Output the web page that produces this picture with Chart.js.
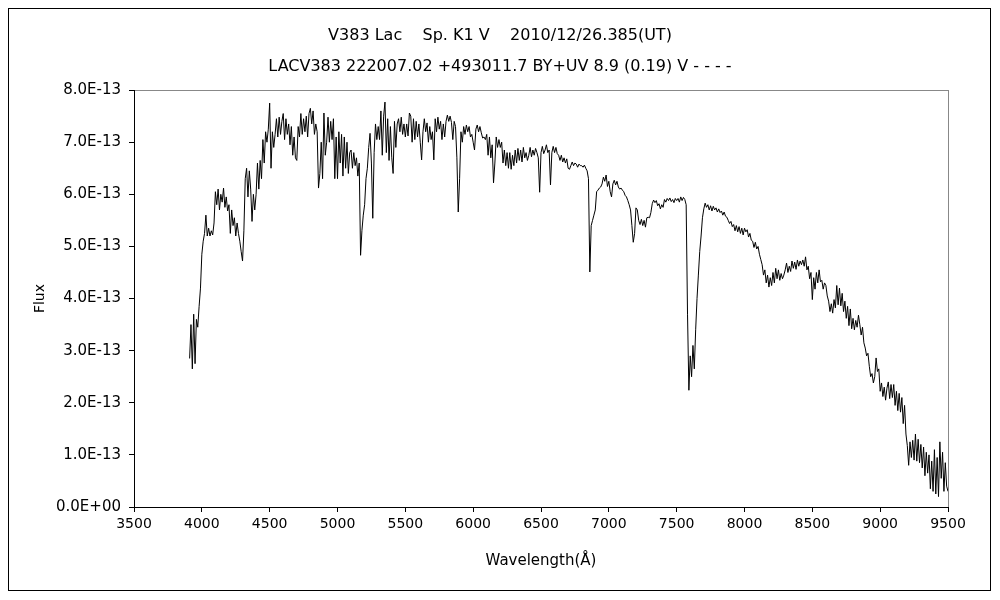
<!DOCTYPE html>
<html>
<head>
<meta charset="utf-8">
<script src="https://cdn.jsdelivr.net/npm/chart.js@4.4.1/dist/chart.umd.min.js"></script>
<style>
  html, body { margin: 0; padding: 0; background: #fff; }
  #wrap { width: 1000px; height: 600px; }
</style>
</head>
<body>
<div id="wrap"><canvas id="spectrum" width="1000" height="600"></canvas></div>
<script>
// Spectrum of V383 Lac, sampled every 10 A starting at 3910 A
// flux values are in units of 1E-13
const waveStart = 3910;
const waveStep = 10;

const flux = [
    2.85, 3.50, 2.65, 3.70, 2.75, 3.60, 3.45, 3.85, 4.20,
    4.85, 5.10, 5.25, 5.60, 5.20, 5.35, 5.20, 5.30, 5.22, 5.45,
    6.05, 5.80, 6.10, 5.70, 6.00, 5.85, 6.12, 5.75, 5.95, 5.68,
    5.80, 5.25, 5.70, 5.40, 5.55, 5.20, 5.45, 5.25, 5.10, 4.90,
    4.72, 5.30, 6.30, 6.50, 5.95, 6.45, 6.10, 5.48, 6.00, 5.70,
    6.00, 6.60, 6.10, 6.65, 6.30, 7.05, 6.60, 7.20, 7.00, 7.25,
    7.75, 6.50, 7.20, 6.90, 7.15, 7.45, 7.10, 7.48, 7.15, 7.40,
    7.55, 7.05, 7.45, 7.15, 7.35, 6.95, 7.30, 6.75, 7.10, 6.70,
    6.65, 7.30, 7.10, 7.55, 7.15, 7.45, 7.20, 7.50, 7.10, 7.55,
    7.65, 7.35, 7.60, 7.15, 7.35, 7.20, 6.12, 6.40, 7.00, 6.30,
    7.56, 6.75, 7.00, 7.48, 7.00, 7.40, 7.05, 7.45, 6.30, 7.10,
    6.30, 7.20, 6.60, 7.15, 6.35, 7.10, 6.50, 7.00, 6.40, 6.80,
    6.85, 6.50, 6.80, 6.55, 6.70, 6.35, 6.60, 4.83, 5.30, 5.60,
    5.80, 6.30, 6.50, 6.90, 7.17, 6.60, 5.54, 6.80, 7.35, 7.05,
    7.30, 7.05, 7.60, 6.75, 7.50, 7.77, 6.80, 7.45, 6.65, 7.30,
    6.70, 6.40, 7.40, 6.90, 7.35, 7.45, 7.20, 7.48, 7.15, 7.35,
    7.10, 7.35, 7.12, 7.56, 7.50, 7.00, 7.45, 7.05, 7.40, 7.10,
    7.35, 7.00, 6.66, 7.20, 7.45, 7.20, 7.37, 7.00, 7.30, 7.05,
    7.20, 6.66, 7.45, 7.20, 7.48, 7.25, 7.40, 7.05, 7.35, 7.10,
    7.40, 7.52, 7.40, 7.50, 7.38, 7.05, 7.40, 7.30, 6.70, 5.66,
    6.30, 7.20, 7.00, 7.30, 7.15, 7.33, 7.20, 7.30, 7.10, 7.15,
    7.00, 6.85, 7.25, 7.33, 7.20, 7.30, 7.18, 7.08, 7.10, 7.05,
    7.15, 6.75, 7.10, 6.70, 6.95, 6.22, 6.60, 7.10, 6.90, 7.05,
    6.90, 7.00, 6.60, 6.85, 6.55, 6.80, 6.50, 6.80, 6.48, 6.75,
    6.55, 6.85, 6.60, 6.88, 6.65, 6.85, 6.62, 6.90, 6.70, 6.80,
    6.65, 6.75, 6.90, 6.72, 6.85, 6.75, 6.88, 6.80, 6.70, 6.04,
    6.80, 6.92, 6.78, 6.85, 6.95, 6.80, 6.85, 6.18, 6.80, 6.92,
    6.80, 6.90, 6.78, 6.75, 6.65, 6.75, 6.62, 6.70, 6.60, 6.68,
    6.50, 6.48, 6.55, 6.62, 6.55, 6.60, 6.58, 6.52, 6.58, 6.55,
    6.55, 6.52, 6.56, 6.50, 6.45, 6.30, 4.51, 5.40, 5.50, 5.60,
    5.70, 6.05, 6.08, 6.12, 6.14, 6.20, 6.33, 6.25, 6.37, 6.15,
    6.25, 6.05, 5.95, 6.20, 6.27, 6.18, 6.25, 6.14, 6.10, 6.12,
    6.08, 6.05, 5.98, 5.95, 5.88, 5.80, 5.70, 5.40, 5.08, 5.25,
    5.74, 5.70, 5.50, 5.42, 5.52, 5.40, 5.50, 5.37, 5.55, 5.56,
    5.55, 5.65, 5.82, 5.89, 5.84, 5.88, 5.78, 5.82, 5.72, 5.80,
    5.75, 5.90, 5.85, 5.92, 5.88, 5.93, 5.86, 5.90, 5.84, 5.92,
    5.88, 5.92, 5.85, 5.95, 5.88, 5.94, 5.90, 5.80, 3.70, 2.24,
    2.90, 2.50, 3.10, 2.65, 3.40, 4.00, 4.45, 4.90, 5.20, 5.55,
    5.72, 5.83, 5.75, 5.80, 5.70, 5.78, 5.68, 5.77, 5.70, 5.74,
    5.66, 5.72, 5.65, 5.68, 5.60, 5.66, 5.58, 5.56, 5.50, 5.44,
    5.48, 5.38, 5.42, 5.30, 5.40, 5.28, 5.38, 5.25, 5.35, 5.22,
    5.35, 5.28, 5.32, 5.18, 5.25, 5.12, 5.10, 4.98, 5.08, 4.95,
    5.00, 4.85, 4.75, 4.65, 4.45, 4.55, 4.30, 4.45, 4.22, 4.40,
    4.25, 4.50, 4.30, 4.58, 4.38, 4.55, 4.35, 4.48, 4.38, 4.45,
    4.55, 4.68, 4.50, 4.62, 4.52, 4.72, 4.58, 4.70, 4.56, 4.74,
    4.62, 4.72, 4.65, 4.74, 4.62, 4.80, 4.55, 4.62, 4.38, 4.50,
    3.98, 4.40, 4.18, 4.50, 4.30, 4.55, 4.32, 4.35, 4.18, 4.30,
    4.25, 4.05, 3.95, 3.75, 3.90, 3.72, 3.98, 3.82, 4.25, 3.88,
    4.20, 3.86, 4.10, 3.75, 3.95, 3.62, 3.85, 3.48, 3.80, 3.42,
    3.62, 3.40, 3.58, 3.45, 3.68, 3.50, 3.30, 3.45, 3.15, 3.05,
    2.90, 2.95, 2.70, 2.50, 2.56, 2.38, 2.50, 2.86, 2.60, 2.65,
    2.22, 2.38, 2.12, 2.30, 2.05, 2.28, 2.40, 2.08, 2.35, 2.10,
    2.35, 1.95, 2.22, 1.85, 2.18, 1.82, 2.10, 1.60, 1.95, 1.40,
    1.18, 0.80, 1.25, 0.95, 1.28, 0.90, 1.40, 0.88, 1.30, 0.85,
    1.20, 0.75, 1.15, 0.60, 1.05, 0.65, 1.00, 0.35, 0.88, 0.30,
    1.10, 0.25, 0.95, 0.20, 1.25, 0.55, 1.05, 0.30, 0.85, 0.40,
    0.30
];

const titleLines = [
    'V383 Lac    Sp. K1 V    2010/12/26.385(UT)',
    'LACV383 222007.02 +493011.7 BY+UV 8.9 (0.19) V - - - -'
];
const xTicks = [3500, 4000, 4500, 5000, 5500, 6000, 6500, 7000, 7500, 8000, 8500, 9000, 9500];
const yTicks = [0, 1, 2, 3, 4, 5, 6, 7, 8];
const xLabel = 'Wavelength(Å)';
const yLabel = 'Flux';

const FONT = "'DejaVu Sans', sans-serif";

const points = flux.map((v, i) => ({ x: waveStart + i * waveStep, y: v }));

// white background, outer frame and grey plot frame
const framePlugin = {
    id: 'frames',
    beforeDraw(chart) {
        const ctx = chart.ctx;
        ctx.save();
        ctx.fillStyle = '#fff';
        ctx.fillRect(0, 0, chart.width, chart.height);
        ctx.strokeStyle = '#000';
        ctx.lineWidth = 1;
        ctx.strokeRect(8.5, 8.5, 982, 582);
        const a = chart.chartArea;
        ctx.strokeStyle = '#888';
        ctx.strokeRect(Math.round(a.left) + 0.5, Math.round(a.top) + 0.5,
            Math.round(a.right - a.left), Math.round(a.bottom - a.top));
        ctx.restore();
    }
};

new Chart(document.getElementById('spectrum'), {
    type: 'line',
    data: {
        datasets: [{
            data: points,
            borderColor: '#000',
            borderWidth: 1,
            pointRadius: 0,
            tension: 0,
            fill: false
        }]
    },
    options: {
        responsive: false,
        animation: false,
        // symmetric side padding keeps the title centred on the canvas
        layout: { padding: { left: 52, right: 52, top: 20, bottom: 18 } },
        plugins: {
            legend: { display: false },
            tooltip: { enabled: false },
            title: {
                display: true,
                text: titleLines,
                color: '#000',
                font: { family: FONT, size: 16, weight: 'normal', lineHeight: 1.94 },
                padding: { top: 0, bottom: 8 }
            }
        },
        scales: {
            x: {
                type: 'linear',
                min: 3500,
                max: 9500,
                afterFit: s => { s.height = 75; },
                afterBuildTicks: s => { s.ticks = xTicks.map(v => ({ value: v })); },
                ticks: {
                    color: '#000',
                    font: { family: FONT, size: 14 },
                    padding: 4,
                    maxRotation: 0,
                    callback: v => String(v)
                },
                grid: { drawOnChartArea: false, tickLength: 5, color: '#000' },
                border: { color: '#000' },
                title: {
                    display: true,
                    text: xLabel,
                    color: '#000',
                    font: { family: FONT, size: 15 },
                    padding: { top: 4, bottom: 12 }
                }
            },
            y: {
                min: 0,
                max: 8,
                afterFit: s => { s.width = 82; },
                afterBuildTicks: s => { s.ticks = yTicks.map(v => ({ value: v })); },
                ticks: {
                    color: '#000',
                    font: { family: FONT, size: 15 },
                    padding: 8,
                    callback: v => v === 0 ? '0.0E+00' : v.toFixed(1) + 'E-13'
                },
                grid: { drawOnChartArea: false, tickLength: 5, color: '#000' },
                border: { color: '#000' },
                title: {
                    display: true,
                    text: yLabel,
                    color: '#000',
                    font: { family: FONT, size: 14 },
                    padding: { top: -20, bottom: 0 }
                }
            }
        }
    },
    plugins: [framePlugin]
});
</script>
</body>
</html>
